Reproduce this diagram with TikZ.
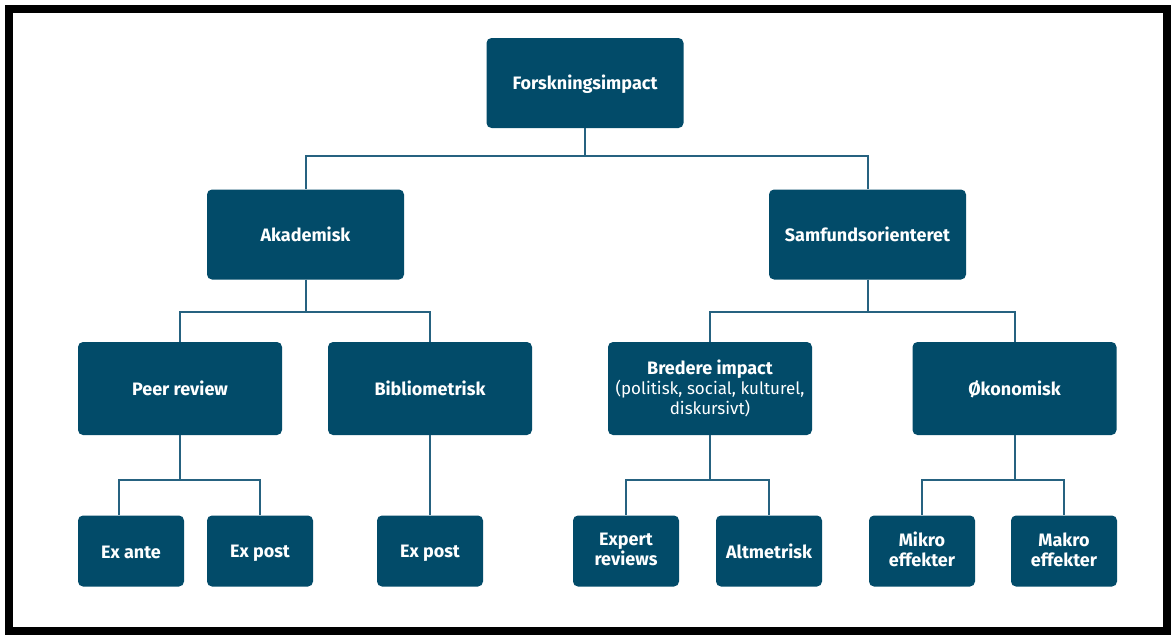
\documentclass[tikz,border=0pt]{standalone}
\usepackage{fontspec}
\setmainfont{Fira Sans}
\usepackage{tikz}

\definecolor{boxblue}{RGB}{2,75,105}
\definecolor{lineblue}{RGB}{38,98,128}

\newcommand{\boxstrut}{\rule[-3pt]{0pt}{20pt}}
\newcommand{\plain}{\fontsize{17}{20}\selectfont\mdseries}

\tikzset{
  box/.style={fill=boxblue, rounded corners=5pt, text=white, align=center, inner sep=0pt,
    font=\fontsize{18}{20}\selectfont\bfseries,
    execute at begin node=\boxstrut, execute at end node=\boxstrut},
  topbox/.style={box, minimum width=197pt, minimum height=90pt},
  midbox/.style={box, minimum width=204pt, minimum height=93pt},
  leafbox/.style={box, minimum width=106pt, minimum height=71pt},
  link/.style={draw=lineblue, line width=2pt}
}

\begin{document}
\begin{tikzpicture}[x=1pt, y=-1pt]
    \useasboundingbox (0,0) rectangle (1171,637);
    \draw[line width=8pt] (9,9) rectangle (1167,631);

    % Top and first level
    \node[topbox] (impact) at (585,83) {Forskningsimpact};
    \node[topbox] (akad) at (305.5,234.5) {Akademisk};
    \node[topbox] (samf) at (867.5,234.5) {Samfundsorienteret};
    \draw[link] (impact.south) -- ++(0,28) -| (akad.north);
    \draw[link] (impact.south) -- ++(0,28) -| (samf.north);

    % Akademisk branch
    \node[midbox] (peer) at (180,388.5) {Peer review};
    \node[midbox] (biblio) at (430,388.5) {Bibliometrisk};
    \draw[link] (akad.south) -- ++(0,32) -| (peer.north);
    \draw[link] (akad.south) -- ++(0,32) -| (biblio.north);

    \node[leafbox] (exante) at (131,551) {Ex ante};
    \node[leafbox] (expost) at (260,551) {Ex post};
    \node[leafbox] (biblpost) at (430,551) {Ex post};
    \draw[link] (peer.south) -- ++(0,45) -| ([xshift=-12pt]exante.north);
    \draw[link] (peer.south) -- ++(0,45) -| (expost.north);
    \draw[link] (biblio.south) -- (biblpost.north);

    % Samfundsorienteret branch
    \node[midbox] (bredere) at (710,388.5) {Bredere impact\\\plain(politisk, social, kulturel,\\\plain diskursivt)};
    \node[midbox] (oekon) at (1014.5,388.5) {Økonomisk};
    \draw[link] (samf.south) -- ++(0,32) -| (bredere.north);
    \draw[link] (samf.south) -- ++(0,32) -| (oekon.north);

    \node[leafbox] (expert) at (626,551) {Expert\\reviews};
    \node[leafbox] (altm) at (769,551) {Altmetrisk};
    \node[leafbox] (mikro) at (922,551) {Mikro\\effekter};
    \node[leafbox] (makro) at (1064,551) {Makro\\effekter};
    \draw[link] (bredere.south) -- ++(0,45) -| (expert.north);
    \draw[link] (bredere.south) -- ++(0,45) -| (altm.north);
    \draw[link] (oekon.south) -- ++(0,45) -| (mikro.north);
    \draw[link] (oekon.south) -- ++(0,45) -| (makro.north);
\end{tikzpicture}
\end{document}
